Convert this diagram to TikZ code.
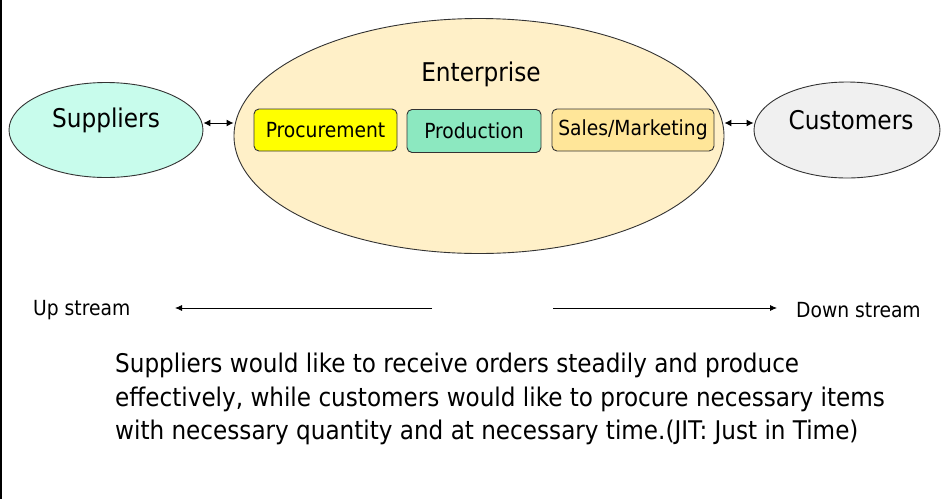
\documentclass[tikz,border=0pt]{standalone}
\usepackage{fontspec}
\setmainfont{DejaVu Sans Condensed}
\usetikzlibrary{arrows.meta,shapes.geometric}
\definecolor{supfill}{HTML}{C8FCEC}
\definecolor{entfill}{HTML}{FFF0C8}
\definecolor{cusfill}{HTML}{F0F0F0}
\definecolor{procfill}{HTML}{FFFF00}
\definecolor{prodfill}{HTML}{8CE8C0}
\definecolor{salesfill}{HTML}{FFE699}
\definecolor{edge}{HTML}{333333}
\begin{document}
\begin{tikzpicture}[x=1pt,y=-1pt,
  oval/.style={ellipse,draw=edge,line width=0.9pt,inner sep=0pt},
  func/.style={draw=edge,line width=0.9pt,rounded corners=5pt,inner sep=0pt,font=\fontsize{20.8}{23}\selectfont},
  bigtxt/.style={font=\fontsize{25.8}{28}\selectfont,inner sep=0pt},
  smalltxt/.style={font=\fontsize{20.8}{23}\selectfont,inner sep=0pt,anchor=west},
  link/.style={line width=1pt,{Latex[length=7pt,width=7pt]}-{Latex[length=7pt,width=7pt]}},
  flow/.style={line width=0.8pt,-{Latex[length=7pt,width=6pt]}}]
\useasboundingbox (0,0) rectangle (946,499);
\fill[white] (0,0) rectangle (946,499);
\draw[line width=2pt] (1,0) -- (1,499);
% ellipses
\node[oval,fill=supfill,minimum width=194pt,minimum height=95pt] (sup) at (106,130) {};
\node[oval,fill=entfill,minimum width=490pt,minimum height=235pt] (ent) at (479,136) {};
\node[oval,fill=cusfill,minimum width=186pt,minimum height=96pt] (cus) at (847,130) {};
\node[bigtxt] (suptxt) at (106,120) {Suppliers};
\node[bigtxt] (enttxt) at (481,74) {Enterprise};
\node[bigtxt] (custxt) at (851,120) {Customers};
% function boxes
\node[func,fill=procfill,minimum width=143pt,minimum height=42pt] (proc) at (325.5,130) {Procurement};
\node[func,fill=prodfill,minimum width=134pt,minimum height=43pt] (prod) at (474,131) {Production};
\node[func,fill=salesfill,minimum width=162pt,minimum height=42pt] (sales) at (633,130) {Sales/Marketing};
% links
\draw[link] (sup.east |- 0,123) -- (ent.west |- 0,123);
\draw[link] (ent.east |- 0,123) -- (cus.west |- 0,123);
% streams
\node[smalltxt] (up) at (33,310) {Up stream};
\node[smalltxt] (down) at (796,310) {Down stream};
\coordinate (upstart) at (432,308);
\coordinate (upend) at (175,308);
\coordinate (downstart) at (553,308);
\coordinate (downend) at (777,308);
\draw[flow] (upstart) -- (upend);
\draw[flow] (downstart) -- (downend);
% paragraph
\node[anchor=west,align=left,inner sep=0pt,font=\fontsize{25.7}{33.5}\selectfont] (para) at (115,399)
 {Suppliers would like to receive orders steadily and produce\\
  effectively, while customers would like to procure necessary items\\
  with necessary quantity and at necessary time.(JIT: Just in Time)};
\end{tikzpicture}
\end{document}
